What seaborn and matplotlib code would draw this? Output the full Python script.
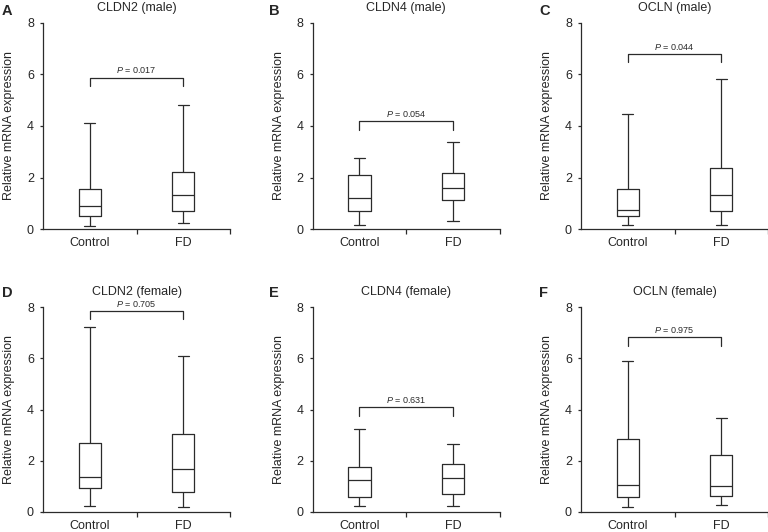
import pandas as pd
import numpy as np
import matplotlib
matplotlib.use("Agg")
import matplotlib.pyplot as plt
import seaborn as sns

# five-number summaries: [min, Q1, median, Q3, max]
groups = ["Control", "FD"]
genes = ["CLDN2", "CLDN4", "OCLN"]
sexes = ["male", "female"]
letters = ["A", "B", "C", "D", "E", "F"]

ctrl_male = {
    "CLDN2": [0.12, 0.50, 0.89, 1.55, 4.13],
    "CLDN4": [0.17, 0.71, 1.20, 2.10, 2.76],
    "OCLN": [0.17, 0.52, 0.74, 1.57, 4.45],
}
fd_male = {
    "CLDN2": [0.23, 0.71, 1.33, 2.20, 4.83],
    "CLDN4": [0.32, 1.11, 1.61, 2.17, 3.38],
    "OCLN": [0.14, 0.69, 1.32, 2.38, 5.83],
}
ctrl_female = {
    "CLDN2": [0.23, 0.95, 1.37, 2.71, 7.21],
    "CLDN4": [0.22, 0.60, 1.23, 1.75, 3.22],
    "OCLN": [0.19, 0.60, 1.05, 2.84, 5.90],
}
fd_female = {
    "CLDN2": [0.18, 0.80, 1.66, 3.03, 6.07],
    "CLDN4": [0.22, 0.70, 1.32, 1.87, 2.65],
    "OCLN": [0.29, 0.64, 1.00, 2.22, 3.68],
}

# p values and bracket heights per panel (A..F)
p_values = ["0.017", "0.054", "0.044", "0.705", "0.631", "0.975"]
bracket_y = [5.88, 4.19, 6.81, 7.85, 4.09, 6.82]

sns.set_style("ticks")
plt.rcParams["font.family"] = ["Liberation Sans", "DejaVu Sans"]
plt.rcParams["mathtext.fontset"] = "custom"
plt.rcParams["mathtext.it"] = "Liberation Sans:italic"
plt.rcParams["mathtext.rm"] = "Liberation Sans"

LINE = "#2b2b2b"
W, H = 768, 532

fig = plt.figure(figsize=(7.68, 5.32), dpi=100)

lefts = [43, 312.7, 581]
row_y0 = [229, 512]      # pixel row of y=0
row_h = [206, 205]

k = 0
for r, sex in enumerate(sexes):
    ctrl = ctrl_male if sex == "male" else ctrl_female
    fd = fd_male if sex == "male" else fd_female
    for c, gene in enumerate(genes):
        rows = []
        for v in ctrl[gene]:
            rows.append({"group": "Control", "value": v})
        for v in fd[gene]:
            rows.append({"group": "FD", "value": v})
        df = pd.DataFrame(rows)

        ax = fig.add_axes([lefts[c] / W, (H - row_y0[r]) / H, 187 / W, row_h[r] / H])
        sns.boxplot(data=df, x="group", y="value", order=groups, ax=ax,
                    whis=(0, 100), width=0.24, fill=False, color=LINE,
                    linewidth=0.9, showfliers=False)

        ax.set_xlim(-0.5, 1.5)
        ax.set_ylim(0, 8)
        ax.set_yticks([0, 2, 4, 6, 8])
        ax.set_xlabel("")
        ax.set_ylabel("Relative mRNA expression", fontsize=9)
        ax.yaxis.set_label_coords(-0.15, 0.5)
        ax.set_title(f"{gene} ({sex})", fontsize=9, pad=8.5)

        sns.despine(ax=ax)
        for s in ["left", "bottom"]:
            ax.spines[s].set_color(LINE)
            ax.spines[s].set_linewidth(0.9)
        ax.tick_params(axis="y", labelsize=9, length=2.5, width=0.9, color=LINE, pad=4)
        ax.tick_params(axis="x", which="major", labelsize=9, length=0, pad=5.5)
        ax.set_xticks([0.5, 1.5], minor=True)
        ax.tick_params(axis="x", which="minor", length=3.5, width=0.9, color=LINE)

        # significance bracket
        h = bracket_y[k]
        ax.plot([0, 0, 1, 1], [h - 0.33, h, h, h - 0.33], color=LINE, lw=0.9, clip_on=False)
        ax.text(0.5, h + 0.16, f"$P$ = {p_values[k]}", ha="center", va="baseline",
                fontsize=6.5, color=LINE, clip_on=False)

        # panel letter
        lx = [2, 269, 539][c]
        ly = [4, 286][r]
        fig.text(lx / W, 1 - ly / H, letters[k], fontsize=10.5, fontweight="bold",
                 ha="left", va="top")
        k += 1

plt.savefig("out.png", dpi=100)
